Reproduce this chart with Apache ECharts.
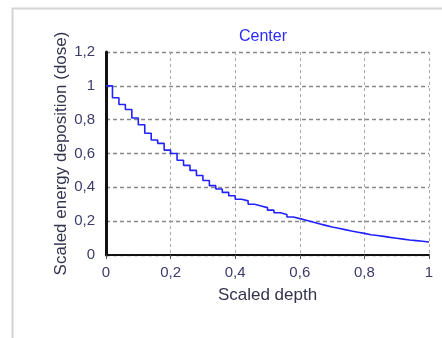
<!DOCTYPE html>
<html>
<head>
<meta charset="utf-8">
<script src="https://cdn.jsdelivr.net/npm/echarts@6/dist/echarts.min.js"></script>
<style>
  html, body { margin: 0; padding: 0; background: #fff; }
  #chart { width: 442px; height: 338px; }
</style>
</head>
<body>
<div id="chart"></div>
<script>
// bin start positions (scaled depth) and dose per bin
var depth = [0.00, 0.02, 0.04, 0.06, 0.08, 0.10, 0.12, 0.14, 0.16, 0.18,
             0.20, 0.22, 0.24, 0.26, 0.28, 0.30, 0.32, 0.34, 0.36, 0.38,
             0.40, 0.42, 0.44, 0.46, 0.48, 0.50, 0.52, 0.54, 0.56, 0.58,
             0.60, 0.62, 0.64, 0.66, 0.68, 0.70, 0.72, 0.74, 0.76, 0.78,
             0.80, 0.82, 0.84, 0.86, 0.88, 0.90, 0.92, 0.94, 0.96, 0.98, 1.00];
var dose = [1.00, 0.93, 0.89, 0.86, 0.81, 0.77, 0.72, 0.68, 0.66, 0.62,
            0.60, 0.56, 0.53, 0.50, 0.47, 0.44, 0.41, 0.39, 0.37, 0.35,
            0.33, 0.32, 0.30, 0.29, 0.28, 0.265, 0.25, 0.24, 0.225, 0.215,
            0.205, 0.195, 0.185, 0.175, 0.165, 0.158, 0.15, 0.142, 0.135, 0.128,
            0.12, 0.115, 0.11, 0.104, 0.099, 0.094, 0.089, 0.085, 0.081, 0.077, 0.074];

var pts = [];
for (var i = 0; i < depth.length; i++) {
    pts.push([depth[i], dose[i]]);
}

function comma(v) {
    return String(Math.round(v * 10) / 10).replace(".", ",");
}

var option = {
    animation: false,
    backgroundColor: "#fff",
    graphic: [
        {
            type: "rect",
            shape: { x: 12.5, y: 8.5, width: 440, height: 340 },
            style: { fill: "none", stroke: "#d4d4d4", lineWidth: 2 },
            silent: true
        }
    ],
    title: {
        text: "Center",
        left: 258,
        top: 24,
        textAlign: "center",
        textStyle: { color: "#2a2aff", fontSize: 16, fontWeight: "normal", fontFamily: "Liberation Sans" }
    },
    grid: { left: 106, right: 13, top: 52, bottom: 83 },
    xAxis: {
        type: "value",
        min: 0, max: 1, interval: 0.2,
        name: "Scaled depth",
        nameLocation: "middle",
        nameGap: 32,
        nameMoveOverlap: false,
        nameTextStyle: { color: "#33334d", fontSize: 17, fontFamily: "Liberation Sans", verticalAlign: "top" },
        axisLine: { show: true, onZero: false, lineStyle: { color: "#111", width: 2, type: [5, 1] } },
        axisTick: { show: true, length: 4, lineStyle: { color: "#555" } },
        axisLabel: { color: "#3b3b6b", fontSize: 15, fontFamily: "Liberation Sans", margin: 10, formatter: comma },
        splitLine: { show: true, lineStyle: { color: "#aaa", type: [3, 3], width: 1 } }
    },
    yAxis: {
        type: "value",
        min: 0, max: 1.2, interval: 0.2,
        name: "Scaled energy deposition (dose)",
        nameLocation: "middle",
        nameGap: 36,
        nameMoveOverlap: false,
        nameTextStyle: { color: "#33334d", fontSize: 17, fontFamily: "Liberation Sans" },
        axisLine: { show: true, onZero: false, lineStyle: { color: "#111", width: 3 } },
        axisTick: { show: false },
        axisLabel: { color: "#3b3b6b", fontSize: 15, fontFamily: "Liberation Sans", margin: 11, formatter: comma },
        splitLine: { show: true, lineStyle: { color: "#888", type: [4, 3], width: 1.3 } }
    },
    series: [
        {
            type: "line",
            step: "end",
            data: pts,
            showSymbol: false,
            lineStyle: { color: "#2222ff", width: 1.6 }
        }
    ]
};

var myChart = echarts.init(document.getElementById("chart"));
myChart.setOption(option);
</script>
</body>
</html>
